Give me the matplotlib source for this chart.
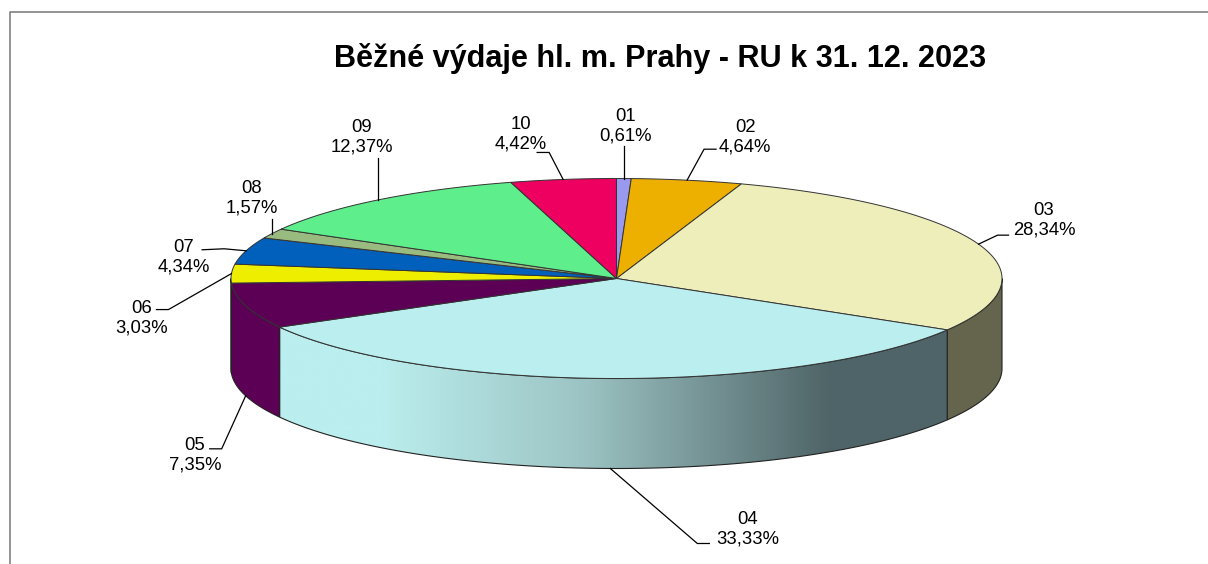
import numpy as np
import matplotlib
matplotlib.use("Agg")
import matplotlib.pyplot as plt
from matplotlib.colors import LinearSegmentedColormap
from matplotlib.patches import Polygon

plt.rcParams["font.family"] = ["Liberation Sans", "DejaVu Sans"]

# data
codes = ["01", "02", "03", "04", "05", "06", "07", "08", "09", "10"]
shares = [0.61, 4.64, 28.34, 33.33, 7.35, 3.03, 4.34, 1.57, 12.37, 4.42]
title = "Běžné výdaje hl. m. Prahy - RU k 31. 12. 2023"

# styles
top_colors = ["#9999EE", "#EEB000", "#EEEEBB", "#BBEEEE", "#5C0056",
              "#EEEE00", "#0060BB", "#99BB80", "#5EEE8C", "#EE0060"]
wall_colors = {"03": "#65644D", "05": "#5C0056"}
wall_grad = [(0.0, "#BBEEEE"), (0.15, "#BBEEEE"), (0.45, "#9DC4C4"),
             (0.82, "#506568"), (1.0, "#4F6468")]

# layout, in pixels
cx, cy, rx, ry, depth = 616.5, 278.5, 385.5, 100, 90
label_xy = [(626, 126), (745, 137), (1044, 220), (748, 529), (195, 455),
            (142, 318), (184, 257), (252, 198), (362, 137), (521, 134)]
# leader bends, relative to the anchor on the rim
elbows = [[(0, -33)], [(17, -31), (29, -31)], [(19, -9), (30, -9)],
          [(87, 75), (99, 75)], [(-24, 53), (-36, 53)], [(-63, 36), (-75, 36)],
          [(-22, -2), (-44, -1)], [(0, -15)], [(0, -42)], [(-14, -27), (-26, -27)]]


def rim(deg, drop=0):
    a = np.radians(deg)
    return cx + rx * np.sin(a), cy - ry * np.cos(a) + drop


fig = plt.figure(figsize=(12.08, 5.64), dpi=100)
ax = fig.add_axes([0, 0, 1, 1])
ax.set_xlim(0, 1208)
ax.set_ylim(564, 0)
ax.axis("off")

# frame, open on the right and at the bottom
ax.plot([10, 10, 1208], [564, 11.5, 11.5], color="#777777", lw=1.1, zorder=1)

edges = np.concatenate([[0], np.cumsum(shares)]) * 3.6

# side walls
for code, color, a0, a1 in zip(codes, top_colors, edges[:-1], edges[1:]):
    lo, hi = max(a0, 90), min(a1, 270)
    if lo >= hi:
        continue
    t = np.linspace(lo, hi, 200)
    x, y = rim(t)
    xb, yb = rim(t, depth)
    pts = np.r_[np.c_[x, y], np.c_[xb, yb][::-1]]
    if code in wall_colors:
        ax.add_patch(Polygon(pts, closed=True, fc=wall_colors[code], ec="#222222", lw=0.8, zorder=2))
    else:
        cmap = LinearSegmentedColormap.from_list("wall", wall_grad)
        box = [x.min(), x.max(), yb.max(), y.min()]
        im = ax.imshow(np.linspace(0, 1, 512)[None, :], cmap=cmap, extent=box,
                       aspect="auto", zorder=2, interpolation="bilinear")
        clip = Polygon(pts, closed=True, fc="none", ec="#222222", lw=0.8, zorder=3)
        ax.add_patch(clip)
        im.set_clip_path(clip)
ax.set_xlim(0, 1208)
ax.set_ylim(564, 0)

# top face
for color, a0, a1 in zip(top_colors, edges[:-1], edges[1:]):
    t = np.linspace(a0, a1, 200)
    x, y = rim(t)
    pts = np.r_[[[cx, cy]], np.c_[x, y]]
    ax.add_patch(Polygon(pts, closed=True, fc=color, ec="#333333", lw=0.7, zorder=4))

# labels and leaders
for i, code in enumerate(codes):
    mid = (edges[i] + edges[i + 1]) / 2
    drop = depth if 135 < mid < 260 else 0
    x0, y0 = rim(mid, drop)
    xs = [x0] + [x0 + dx for dx, dy in elbows[i]]
    ys = [y0] + [y0 + dy for dx, dy in elbows[i]]
    ax.plot(xs, ys, color="black", lw=0.9, zorder=5, solid_joinstyle="miter")
    lx, ly = label_xy[i]
    pct = f"{shares[i]:.2f}".replace(".", ",") + "%"
    ax.text(lx, ly, f"{code}\n{pct}", ha="center", va="center", fontsize=13.3,
            linespacing=1.2, color="black", zorder=6)

ax.text(660, 58, title, ha="center", va="center", fontsize=22.1, fontweight="bold", color="black")

fig.savefig("out.png", dpi=100)
